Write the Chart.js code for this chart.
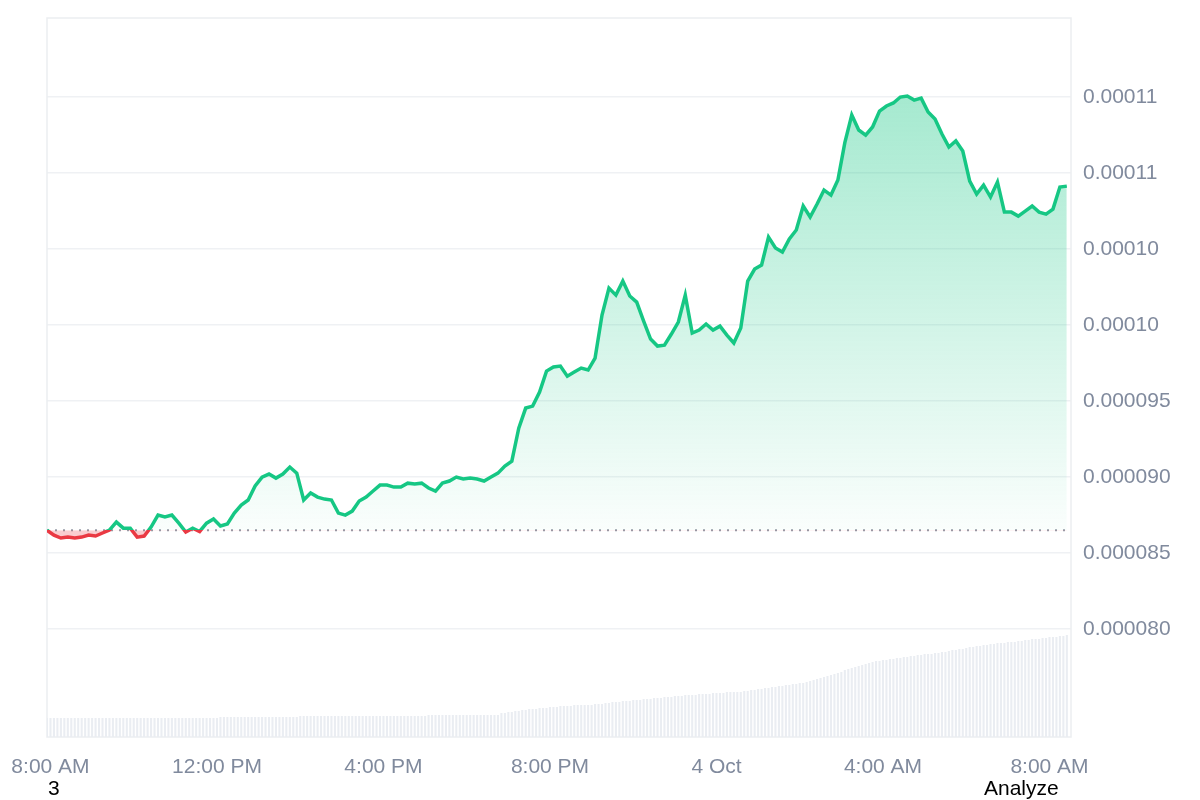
<!DOCTYPE html>
<html>
<head>
<meta charset="utf-8">
<script src="https://cdn.jsdelivr.net/npm/chart.js@4.4.1/dist/chart.umd.min.js"></script>
<style>
  html, body { margin: 0; padding: 0; background: #fff; }
  #wrap { position: relative; width: 1200px; height: 800px; }
  .note { position: absolute; font: 21px "Liberation Sans", Arial, sans-serif; color: #000; line-height: 24px; }
</style>
</head>
<body>
<div id="wrap">
  <canvas id="priceChart" width="1200" height="800"></canvas>
  <div class="note" style="left:48px; top:776px;">3</div>
  <div class="note" style="left:984px; top:776px;">Analyze</div>
</div>
<script>
// prices in units of 1e-6, one point every 10 minutes starting 7:55 AM
const baselineE6 = 86.5;
const startMinute = -5;
const priceStepMin = 10;
const volumeStepMin = 5;

const priceE6 = [
  86.50, 86.18, 85.99, 86.05, 85.99, 86.05, 86.18, 86.12, 86.32, 86.51,
  87.04, 86.64, 86.64, 86.05, 86.12, 86.71, 87.50, 87.37, 87.50, 86.97,
  86.38, 86.64, 86.42, 86.97, 87.24, 86.78, 86.91, 87.63, 88.16, 88.49,
  89.41, 90.00, 90.20, 89.93, 90.20, 90.66, 90.26, 88.49, 88.95, 88.68,
  88.55, 88.49, 87.63, 87.50, 87.76, 88.42, 88.68, 89.08, 89.47, 89.47,
  89.34, 89.34, 89.60, 89.54, 89.60, 89.28, 89.08, 89.60, 89.74, 90.00,
  89.87, 89.93, 89.87, 89.74, 90.00, 90.26, 90.72, 91.05, 93.22, 94.54,
  94.67, 95.59, 96.97, 97.24, 97.30, 96.64, 96.91, 97.17, 97.04, 97.83,
  100.66, 102.43, 101.97, 102.89, 101.91, 101.51, 100.26, 99.08, 98.62, 98.68,
  99.41, 100.20, 101.97, 99.47, 99.67, 100.07, 99.67, 99.93, 99.34, 98.82,
  99.80, 102.89, 103.68, 103.95, 105.79, 105.07, 104.80, 105.66, 106.25, 107.83,
  107.11, 107.96, 108.88, 108.55, 109.54, 112.00, 113.82, 112.83, 112.50, 113.03,
  114.08, 114.41, 114.61, 115.00, 115.07, 114.80, 114.93, 114.01, 113.55, 112.57,
  111.71, 112.11, 111.45, 109.47, 108.62, 109.21, 108.42, 109.41, 107.43, 107.43,
  107.17, 107.50, 107.83, 107.43, 107.30, 107.63, 109.08, 109.14
];

// volume (millions), one bar every 5 minutes
const volumeM = [
  1.9, 1.9, 1.9, 1.9, 1.9, 1.9, 1.9, 1.9, 1.9, 1.9, 1.9, 1.9, 1.9, 1.9, 1.9, 1.9, 1.9, 1.9, 1.9, 1.9,
  1.9, 1.9, 1.9, 1.9, 1.9, 1.9, 1.9, 1.9, 1.9, 1.9, 1.9, 1.9, 1.9, 1.9, 1.9, 1.9, 1.9, 1.9, 1.9, 1.9,
  1.9, 1.9, 1.9, 1.9, 1.9, 1.9, 1.9, 1.9, 1.9, 1.9, 2.0, 2.0, 2.0, 2.0, 2.0, 2.0, 2.0, 2.0, 2.0, 2.0,
  2.0, 2.0, 2.0, 2.0, 2.0, 2.0, 2.0, 2.0, 2.0, 2.0, 2.0, 2.0, 2.0, 2.1, 2.1, 2.1, 2.1, 2.1, 2.1, 2.1,
  2.1, 2.1, 2.1, 2.1, 2.1, 2.1, 2.1, 2.1, 2.1, 2.1, 2.1, 2.1, 2.1, 2.1, 2.1, 2.1, 2.1, 2.1, 2.1, 2.1,
  2.1, 2.1, 2.1, 2.1, 2.1, 2.1, 2.1, 2.1, 2.1, 2.1, 2.2, 2.2, 2.2, 2.2, 2.2, 2.2, 2.2, 2.2, 2.2, 2.2,
  2.2, 2.2, 2.2, 2.2, 2.2, 2.2, 2.2, 2.2, 2.2, 2.2, 2.2, 2.4, 2.4, 2.5, 2.5, 2.6, 2.6, 2.7, 2.7, 2.8,
  2.8, 2.8, 2.9, 2.9, 2.9, 3.0, 3.0, 3.0, 3.1, 3.1, 3.1, 3.1, 3.2, 3.2, 3.2, 3.2, 3.2, 3.2, 3.3, 3.3,
  3.3, 3.4, 3.4, 3.5, 3.5, 3.5, 3.6, 3.6, 3.6, 3.7, 3.7, 3.7, 3.8, 3.8, 3.8, 3.9, 3.9, 3.9, 4.0, 4.0,
  4.0, 4.1, 4.1, 4.1, 4.2, 4.2, 4.2, 4.2, 4.3, 4.3, 4.3, 4.3, 4.4, 4.4, 4.4, 4.4, 4.5, 4.5, 4.5, 4.5,
  4.5, 4.6, 4.6, 4.7, 4.7, 4.8, 4.8, 4.9, 4.9, 5.0, 5.0, 5.1, 5.1, 5.2, 5.2, 5.3, 5.3, 5.4, 5.4, 5.5,
  5.6, 5.7, 5.8, 5.9, 6.0, 6.1, 6.2, 6.3, 6.4, 6.5, 6.7, 6.8, 6.9, 7.0, 7.1, 7.2, 7.3, 7.4, 7.5, 7.6,
  7.6, 7.7, 7.7, 7.8, 7.8, 7.9, 7.9, 8.0, 8.0, 8.1, 8.1, 8.2, 8.2, 8.3, 8.3, 8.3, 8.4, 8.4, 8.5, 8.5,
  8.6, 8.7, 8.7, 8.8, 8.8, 8.9, 9.0, 9.0, 9.1, 9.1, 9.2, 9.2, 9.3, 9.3, 9.4, 9.4, 9.4, 9.5, 9.5, 9.5,
  9.6, 9.6, 9.7, 9.7, 9.8, 9.8, 9.8, 9.9, 9.9, 10.0, 10.0, 10.0, 10.1, 10.1, 10.2
];

const xTickMinutes = [0, 240, 480, 720, 960, 1200, 1440];
const xTickLabels = ['8:00 AM', '12:00 PM', '4:00 PM', '8:00 PM', '4 Oct', '4:00 AM', '8:00 AM'];
const yTickValues = [80, 85, 90, 95, 100, 105, 110, 115];
const yTickLabels = ['0.000080', '0.000085', '0.000090', '0.000095', '0.00010', '0.00010', '0.00011', '0.00011'];

const green = '#16c784';
const red = '#ea3943';
const axisFont = { family: '"Liberation Sans", Arial, sans-serif', size: 21 };

const pricePoints = priceE6.map((v, i) => ({ x: startMinute + i * priceStepMin, y: v }));
const volumePoints = volumeM.map((v, i) => ({ x: startMinute + i * volumeStepMin, y: v }));

function lineColor(context) {
    const { ctx, chartArea, scales } = context.chart;
    if (!chartArea) return green;
    const yb = scales.y.getPixelForValue(baselineE6);
    let f = (yb - chartArea.top) / (chartArea.bottom - chartArea.top);
    f = Math.min(1, Math.max(0, f));
    const g = ctx.createLinearGradient(0, chartArea.top, 0, chartArea.bottom);
    g.addColorStop(0, green);
    g.addColorStop(f, green);
    g.addColorStop(f, red);
    g.addColorStop(1, red);
    return g;
}

function areaColor(context) {
    const { ctx, chartArea, scales } = context.chart;
    if (!chartArea) return 'rgba(22,199,132,0.15)';
    const yb = scales.y.getPixelForValue(baselineE6);
    const g = ctx.createLinearGradient(0, chartArea.top + 60, 0, yb);
    g.addColorStop(0, 'rgba(22,199,132,0.40)');
    g.addColorStop(1, 'rgba(22,199,132,0.02)');
    return g;
}

// light frame round the plot area
const framePlugin = {
    id: 'frame',
    beforeDatasetsDraw(chart) {
        const { ctx, chartArea: a } = chart;
        ctx.save();
        ctx.strokeStyle = '#eceef1';
        ctx.lineWidth = 1.5;
        ctx.strokeRect(a.left, a.top, a.right - a.left, a.bottom - a.top);
        ctx.restore();
    }
};

new Chart(document.getElementById('priceChart'), {
    type: 'bar',
    data: {
        datasets: [
            {
                type: 'line',
                label: 'Price',
                data: pricePoints,
                yAxisID: 'y',
                borderColor: lineColor,
                backgroundColor: areaColor,
                borderWidth: 3.5,
                pointRadius: 0,
                tension: 0,
                fill: { target: { value: baselineE6 }, below: 'rgba(234,57,67,0.25)' },
                order: 1
            },
            {
                type: 'line',
                label: 'Open',
                data: [{ x: startMinute, y: baselineE6 }, { x: 1471, y: baselineE6 }],
                yAxisID: 'y',
                borderColor: '#959ba6',
                borderWidth: 2,
                borderDash: [2, 6],
                pointRadius: 0,
                fill: false,
                order: 2
            },
            {
                type: 'bar',
                label: 'Volume',
                data: volumePoints,
                yAxisID: 'yVol',
                backgroundColor: '#eaedf2',
                barPercentage: 1,
                categoryPercentage: 0.6,
                order: 3
            }
        ]
    },
    options: {
        responsive: false,
        animation: false,
        layout: { padding: { left: 47, top: 18, right: 0, bottom: 21 } },
        plugins: { legend: { display: false }, tooltip: { enabled: false } },
        scales: {
            x: {
                type: 'linear',
                min: startMinute,
                max: 1471,
                offset: false,
                grid: { display: false, drawTicks: false },
                border: { display: false },
                afterBuildTicks: s => { s.ticks = xTickMinutes.map(v => ({ value: v })); },
                afterFit: s => { s.height = 42; s.paddingLeft = 0; s.paddingRight = 0; },
                ticks: {
                    autoSkip: false,
                    maxRotation: 0,
                    padding: 18,
                    color: '#808a9d',
                    font: axisFont,
                    callback: v => xTickLabels[xTickMinutes.indexOf(v)]
                }
            },
            y: {
                position: 'right',
                min: 72.9,
                max: 120.2,
                grid: { color: '#eff1f4', lineWidth: 1.5, drawTicks: false },
                border: { display: false },
                afterBuildTicks: s => { s.ticks = yTickValues.map(v => ({ value: v })); },
                afterFit: s => { s.width = 129; s.paddingTop = 0; s.paddingBottom = 0; },
                ticks: {
                    padding: 12,
                    color: '#808a9d',
                    font: axisFont,
                    callback: v => yTickLabels[yTickValues.indexOf(v)]
                }
            },
            yVol: { display: false, min: 0, max: 71.9 }
        }
    },
    plugins: [framePlugin]
});
</script>
</body>
</html>
